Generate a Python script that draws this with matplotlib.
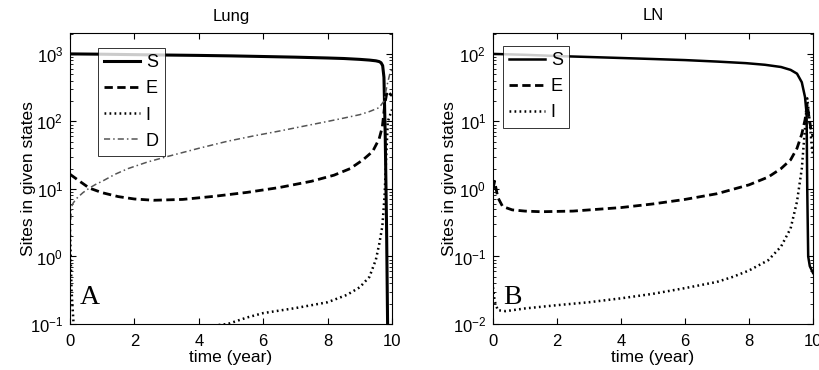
import matplotlib
matplotlib.use("Agg")
import matplotlib.pyplot as plt
from matplotlib.ticker import LogLocator, LogFormatterMathtext, NullFormatter

plt.rcParams["font.family"] = ["Liberation Sans", "DejaVu Sans"]
plt.rcParams["mathtext.fontset"] = "custom"
plt.rcParams["mathtext.rm"] = "Liberation Sans"
plt.rcParams["mathtext.it"] = "Liberation Sans:italic"

# ---- Lung (panel A) ----
lung_t_S = [0, 1, 2, 3, 4, 5, 6, 7, 8, 8.5, 9, 9.3, 9.5, 9.6, 9.66, 9.71, 9.75, 9.79,
            9.83, 9.87]
lung_S = [1000, 990, 975, 962, 950, 935, 915, 895, 870, 855, 830, 810, 790, 770, 740, 670,
          450, 60, 3, 0.05]
lung_t_E = [0, 0.3, 0.6, 1, 1.5, 2, 2.6, 3.5, 4.5, 5.5, 6.5, 7.5, 8.2, 8.7, 9.1,
            9.4, 9.6, 9.7, 9.78, 9.85, 9.92, 10]
lung_E = [16.5, 13, 10.3, 8.8, 7.7, 7.1, 6.8, 7.0, 7.8, 8.9, 10.5, 13, 16, 20, 27,
          36, 55, 83, 186, 280, 260, 240]
lung_t_I = [0, 0.05, 0.15, 2, 4, 4.9, 5.5, 6, 6.5, 7, 7.5, 8, 8.6, 9, 9.3, 9.5, 9.6,
            9.7, 9.77, 9.82, 9.87, 10]
lung_I = [2.5, 0.3, 0.05, 0.07, 0.09, 0.1, 0.125, 0.145, 0.158, 0.172, 0.19, 0.21, 0.27,
          0.35, 0.5, 0.9, 1.5, 2.8, 8, 30, 100, 150]
lung_t_D = [0, 0.01, 0.05, 0.1, 0.2, 0.4, 0.6, 0.8, 1, 1.4, 1.8, 2.4, 3, 4, 4.9, 5.7,
            6.5, 7.2, 8, 8.5, 9, 9.3, 9.6, 9.75, 9.85, 9.93, 10]
lung_D = [0.01, 3, 5.5, 6.2, 7.2, 8.8, 10.3, 11.7, 13, 16.5, 20, 25, 30, 40, 51, 61,
          72, 84, 100, 112, 126, 140, 160, 200, 350, 500, 600]

# ---- LN (panel B) ----
ln_t_S = [0, 1, 2, 3, 4, 5, 6, 7, 7.9, 8.5, 9, 9.3, 9.5, 9.65, 9.75, 9.8, 9.82, 9.85,
          9.9, 10]
ln_S = [100, 97, 93, 90, 87, 84, 81, 77, 73, 69, 64, 58, 51, 38, 23, 13, 1, 0.1, 0.072,
        0.057]
ln_t_E = [0, 0.05, 0.15, 0.3, 0.6, 1, 1.5, 2.5, 4, 5, 6, 7, 8, 8.6, 9, 9.3, 9.5,
          9.65, 9.75, 9.82, 9.87, 9.93, 10]
ln_E = [1.0, 1.3, 0.75, 0.55, 0.49, 0.47, 0.46, 0.47, 0.53, 0.6, 0.7, 0.85, 1.15,
        1.5, 2, 2.7, 4, 6.5, 10.5, 18, 12, 8, 6]
ln_t_I = [0, 0.05, 0.15, 0.4, 1, 2, 3, 4, 5, 6, 7, 7.5, 8, 8.6, 9, 9.3, 9.5, 9.65, 9.75,
          9.82, 9.88, 9.95, 10]
ln_I = [0.035, 0.022, 0.016, 0.0155, 0.017, 0.019, 0.021, 0.024, 0.028, 0.034, 0.042,
        0.05, 0.062, 0.088, 0.14, 0.26, 0.65, 2.0, 8, 22, 12, 5, 3]

fig = plt.figure(figsize=(8.2, 3.7), dpi=100)
axA = fig.add_axes([70 / 820, 46 / 370, 322 / 820, 291 / 370])
axB = fig.add_axes([493 / 820, 46 / 370, 320 / 820, 291 / 370])

dash = (0, (3, 1.6))
dot = (0, (0.7, 1.3))
dashdot = (0, (4, 2, 1, 2))

axA.semilogy(lung_t_S, lung_S, color="black", lw=2.2, label="S")
axA.semilogy(lung_t_E, lung_E, color="black", lw=2.0, ls=dash, label="E")
axA.semilogy(lung_t_I, lung_I, color="black", lw=1.8, ls=dot, label="I")
axA.semilogy(lung_t_D, lung_D, color="#555555", lw=1.1, ls=dashdot, label="D")
axA.set_ylim(0.1, 2040)

axB.semilogy(ln_t_S, ln_S, color="black", lw=1.8, label="S")
axB.semilogy(ln_t_E, ln_E, color="black", lw=2.0, ls=dash, label="E")
axB.semilogy(ln_t_I, ln_I, color="black", lw=1.8, ls=dot, label="I")
axB.set_ylim(0.01, 204)

for ax, title, letter, anchor, ylab_x in [(axA, "Lung", "A", (0.087, 0.948), -0.105),
                                          (axB, "LN", "B", (0.031, 0.955), -0.113)]:
    ax.set_xlim(0, 10)
    ax.set_xticks([0, 2, 4, 6, 8, 10])
    ax.yaxis.set_major_locator(LogLocator(base=10, numticks=10))
    ax.yaxis.set_major_formatter(LogFormatterMathtext())
    ax.yaxis.set_minor_locator(LogLocator(base=10, subs=range(2, 10), numticks=20))
    ax.yaxis.set_minor_formatter(NullFormatter())
    ax.tick_params(which="both", direction="in", top=True, right=True, labelsize=12)
    ax.tick_params(axis="x", pad=7)
    ax.tick_params(axis="y", pad=5)
    ax.tick_params(which="major", length=4, width=0.8)
    ax.tick_params(which="minor", length=2, width=0.6)
    for s in ax.spines.values():
        s.set_linewidth(0.8)
    ax.set_title(title, fontsize=12, pad=9)
    ax.set_xlabel("time (year)", fontsize=12.5, labelpad=1)
    ax.set_ylabel("Sites in given states", fontsize=12.5)
    ax.yaxis.set_label_coords(ylab_x, 0.5)
    ax.text(0.06, 0.09, letter, transform=ax.transAxes, fontsize=20,
            family=["Liberation Serif", "DejaVu Serif"], ha="center", va="center")
    leg = ax.legend(loc="upper left", bbox_to_anchor=anchor, borderaxespad=0,
                    fontsize=13, frameon=True, fancybox=False, edgecolor="black",
                    handlelength=2.0, handletextpad=0.3, labelspacing=0.5,
                    borderpad=0.35)
    leg.get_frame().set_linewidth(0.7)

fig.savefig("out.png", dpi=100)
